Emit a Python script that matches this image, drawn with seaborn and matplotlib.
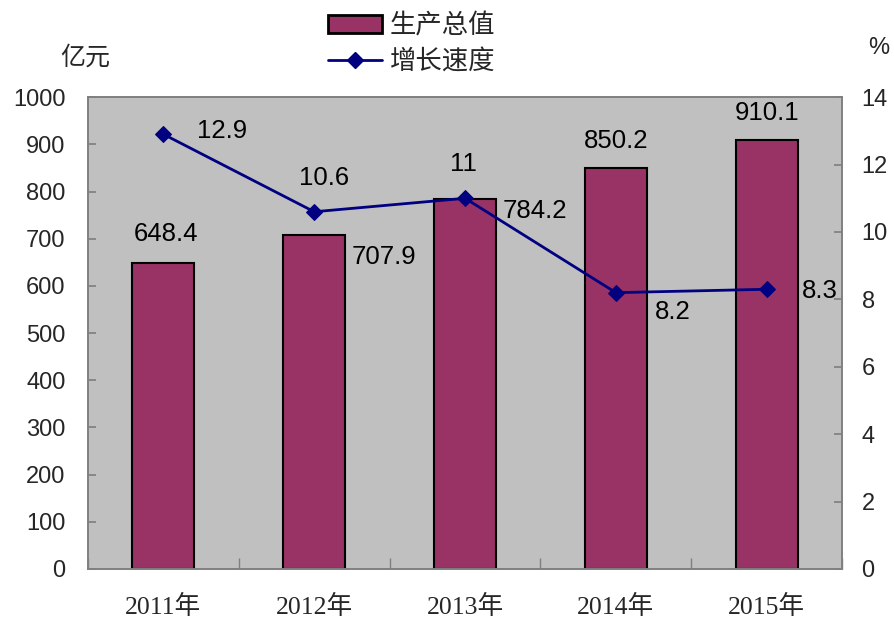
import seaborn as sns
import matplotlib.pyplot as plt
import numpy as np
import pandas as pd
from matplotlib.lines import Line2D
from matplotlib.patches import Patch

# chart data
years = ['2011年', '2012年', '2013年', '2014年', '2015年']
output_value = [648.4, 707.9, 784.2, 850.2, 910.1]   # 亿元
growth_rate = [12.9, 10.6, 11, 8.2, 8.3]             # %
left_ticks = [0, 100, 200, 300, 400, 500, 600, 700, 800, 900, 1000]
right_ticks = [0, 2, 4, 6, 8, 10, 12, 14]

sns.set_theme(style='white')
plt.rcParams['font.family'] = ['Liberation Sans', 'Noto Sans CJK SC']

df = pd.DataFrame({'year': years, 'value': output_value,
                   'growth': growth_rate, 'pos': np.arange(len(years))})

bar_color = '#993366'
line_color = '#000080'
spine_color = '#808080'

fig = plt.figure(figsize=(8.94, 6.19), dpi=100)
ax = fig.add_axes([0.0984, 0.0808, 0.8436, 0.7622])
ax.set_facecolor('#C0C0C0')

sns.barplot(data=df, x='year', y='value', color=bar_color, saturation=1,
            width=0.41, edgecolor='black', linewidth=1.5, ax=ax)
ax.set_xlim(-0.5, len(years) - 0.5)
ax.set_ylim(0, 1000)
ax.set_yticks(left_ticks)
ax.set_xlabel('')
ax.set_ylabel('')

ax2 = ax.twinx()
sns.lineplot(data=df, x='pos', y='growth', color=line_color, linewidth=2,
             marker='D', markersize=8.5, markeredgecolor=line_color, ax=ax2)
ax2.set_ylim(0, 14)
ax2.set_yticks(right_ticks)
ax2.set_ylabel('')
ax2.set_xlabel('')

for a in (ax, ax2):
    for s in a.spines.values():
        s.set_color(spine_color)
        s.set_linewidth(1.2)

ax.tick_params(axis='y', direction='in', length=6, color=spine_color,
               labelsize=17, pad=16, left=True)
ax2.tick_params(axis='y', direction='in', length=6, color=spine_color,
                labelsize=17, pad=14, right=True)
ax.tick_params(axis='x', length=0, pad=19)
ax.set_xticks(np.arange(-0.5, len(years)), minor=True)
ax.tick_params(axis='x', which='minor', direction='in', length=8,
               color=spine_color, bottom=True)
for lbl in ax.get_xticklabels():
    lbl.set_fontfamily(['Liberation Serif', 'Noto Sans CJK SC'])
    lbl.set_fontsize(18.5)

# value labels for bars (offsets in points)
bar_offsets = [(2, 21), (50, -16), (50, -9), (0, 19), (0, 19)]
for i, v in enumerate(output_value):
    ax.annotate(f'{v:g}', (i, v), xytext=bar_offsets[i], textcoords='offset points',
                ha='center', va='center', fontsize=18.5, color='black')

# value labels for line
line_offsets = [(42, 2), (7, 24), (-1, 25), (41, -14), (38, -1)]
for i, v in enumerate(growth_rate):
    ax2.annotate(f'{v:g}', (i, v), xytext=line_offsets[i], textcoords='offset points',
                 ha='center', va='center', fontsize=18.5, color='black')

fig.text(0.095, 0.907, '亿元', fontsize=18, ha='center', va='center')
fig.text(0.983, 0.922, '%', fontsize=17, ha='center', va='center')

handles = [Patch(facecolor=bar_color, edgecolor='black', linewidth=2),
           Line2D([], [], color=line_color, linewidth=2, marker='D',
                  markersize=8.5)]
fig.legend(handles, ['生产总值', '增长速度'], loc='upper left',
           bbox_to_anchor=(328 / 894, 0.979), frameon=False, fontsize=19,
           handlelength=2.05, handleheight=0.7, labelspacing=0.43,
           handletextpad=0.3, borderpad=0, borderaxespad=0)

fig.savefig('out.png', dpi=100)
